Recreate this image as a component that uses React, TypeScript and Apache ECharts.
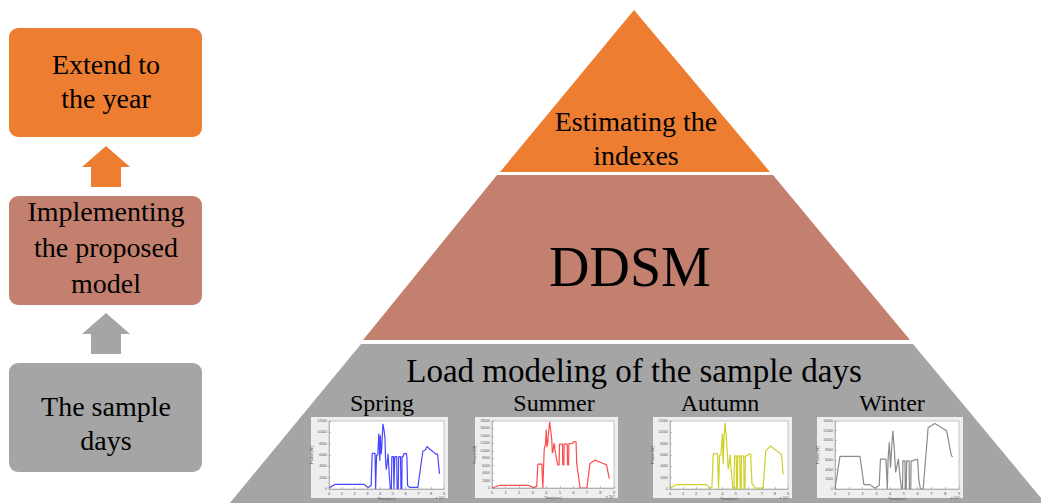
import React, { useEffect, useRef } from "react";
import * as echarts from "echarts";

const seasons = ["Spring", "Summer", "Autumn", "Winter"];

const springLoad = [
  [0, 200], [0.45, 800], [2.75, 800], [3.05, 250], [3.3, 600], [3.38, 6300], [3.6, 6300], [3.65, 0],
  [3.72, 6000], [3.82, 6000], [3.9, 9800], [3.98, 5000], [4.02, 9500], [4.08, 6200], [4.12, 7000],
  [4.22, 11500], [4.3, 10500], [4.38, 9000], [4.42, 5500], [4.48, 3400], [4.55, 4500], [4.62, 6200],
  [4.7, 3000], [4.8, 0], [4.88, 0], [4.92, 5700], [5.05, 5700], [5.08, 0], [5.12, 0], [5.15, 5700],
  [5.3, 5700], [5.33, 0], [5.42, 0], [5.45, 5700], [5.6, 5700], [5.63, 0], [5.7, 0], [5.72, 5700],
  [5.8, 5700], [5.85, 6200], [6.05, 6300], [6.1, 5500], [6.15, 600], [6.3, 300], [6.95, 300],
  [7.35, 6700], [7.5, 6800], [7.68, 7500], [7.8, 7200], [8.35, 6200], [8.5, 6100], [8.65, 2700],
];

const summerLoad = [
  [0, 0], [0.6, 730], [2.7, 730], [3.06, 100], [3.3, 450], [3.38, 6400], [3.68, 6400], [3.75, 0],
  [3.85, 10300], [3.95, 12000], [4.0, 15700], [4.05, 11000], [4.1, 12000], [4.25, 17800], [4.34, 15300],
  [4.41, 13000], [4.45, 9400], [4.5, 9800], [4.58, 12100], [4.7, 9000], [4.85, 6200], [4.95, 6200],
  [4.98, 11800], [5.2, 11800], [5.22, 6200], [5.3, 6200], [5.32, 11800], [5.55, 11800], [5.57, 6200],
  [5.65, 6200], [5.67, 11900], [5.95, 12000], [6.0, 12400], [6.2, 12400], [6.25, 6600], [6.5, 0],
  [7.0, 0], [7.23, 6600], [7.6, 7500], [8.2, 6600], [8.45, 6200], [8.65, 2500],
];

const autumnLoad = [
  [0, 200], [0.5, 760], [2.8, 760], [3.05, 100], [3.2, 350], [3.3, 6260], [3.63, 6200], [3.7, 0],
  [3.78, 6000], [3.88, 6000], [4.0, 9800], [4.06, 4400], [4.12, 9000], [4.2, 11700], [4.3, 9100],
  [4.44, 3500], [4.5, 4200], [4.57, 6100], [4.68, 3000], [4.8, 0], [4.88, 0], [4.92, 5850], [5.05, 5850],
  [5.08, 0], [5.14, 0], [5.17, 5850], [5.32, 5850], [5.35, 0], [5.42, 0], [5.45, 5850], [5.62, 5850],
  [5.65, 0], [5.72, 0], [5.75, 5850], [5.9, 5850], [5.95, 6100], [6.15, 6200], [6.25, 1000], [6.5, 150],
  [7.1, 150], [7.3, 6700], [7.66, 7600], [8.5, 6100], [8.63, 2600],
];

const winterLoad = [
  [0, 0], [0.36, 6700], [1.81, 6700], [2.1, 900], [2.54, 900], [2.9, 150], [3.21, 750], [3.3, 6150],
  [3.7, 6150], [3.8, 0], [3.85, 6000], [3.94, 9600], [4.03, 4400], [4.08, 7000], [4.2, 12000],
  [4.3, 8500], [4.4, 3400], [4.5, 4800], [4.6, 6200], [4.7, 3000], [4.83, 0], [4.9, 0], [4.93, 5800],
  [5.08, 5800], [5.1, 0], [5.17, 0], [5.2, 5800], [5.38, 5800], [5.4, 0], [5.5, 0], [5.52, 5800],
  [5.7, 5800], [5.75, 6000], [6.0, 6100], [6.08, 2000], [6.2, 0], [6.4, 0], [6.76, 12600],
  [7.25, 13500], [8.1, 12000], [8.45, 6800], [8.57, 6700],
];

const seasonLoads = [springLoad, summerLoad, autumnLoad, winterLoad];
const yMaxBySeason = [12000, 18000, 12000, 14000];
const yInterval = 2000;
const xTickLabels = ["0", "1", "2", "3", "4", "5", "6", "7", "8", "9"];
const lineColors = ["#4646ff", "#ff4b4b", "#cfcf2a", "#8a8a8a"];

const pyramidLabels = ["Estimating the\nindexes", "DDSM", "Load modeling of the sample days"];
const stepLabels = ["Extend to\nthe year", "Implementing\nthe proposed\nmodel", "The sample\ndays"];

const ORANGE = "#ED7D31";
const BROWN = "#C4806F";
const GRAY = "#A5A5A5";
const FONT = "Liberation Serif";

// layout (pixels)
const plotBoxes = [
  { l: 329, t: 421, w: 115, h: 68, pl: 311, pw: 137 },
  { l: 492, t: 421, w: 122, h: 67, pl: 475, pw: 143 },
  { l: 670, t: 421, w: 118, h: 68, pl: 653, pw: 139 },
  { l: 835, t: 421, w: 124, h: 68, pl: 817, pw: 146 },
];
const seasonLabelX = [382, 554, 720, 892];

export default function App() {
  const ref = useRef<HTMLDivElement>(null);

  useEffect(() => {
    const chart = echarts.init(ref.current!, null, { renderer: "svg" });

    const textEl = (text: string, x: number, y: number, size: number, lineHeight?: number) => ({
      type: "text",
      x,
      y,
      z: 5,
      style: {
        text,
        fontSize: size,
        fontFamily: FONT,
        fill: "#000",
        align: "center",
        verticalAlign: "middle",
        lineHeight: lineHeight || size * 1.2,
      },
    });

    const graphic: any[] = [
      // left flow boxes
      { type: "rect", z: 0, shape: { x: 9, y: 28, width: 193, height: 109, r: 9 }, style: { fill: ORANGE } },
      { type: "rect", z: 0, shape: { x: 9, y: 196, width: 193, height: 109, r: 9 }, style: { fill: BROWN } },
      { type: "rect", z: 0, shape: { x: 9, y: 363, width: 193, height: 109, r: 9 }, style: { fill: GRAY } },
      {
        type: "polygon", z: 0,
        shape: { points: [[106, 146], [130, 167], [121, 167], [121, 187], [91, 187], [91, 167], [82, 167]] },
        style: { fill: ORANGE },
      },
      {
        type: "polygon", z: 0,
        shape: { points: [[106, 313], [130, 334], [121, 334], [121, 354], [91, 354], [91, 334], [82, 334]] },
        style: { fill: GRAY },
      },
      textEl(stepLabels[0], 106, 81, 28, 34),
      textEl(stepLabels[1], 106, 247, 28, 36),
      textEl(stepLabels[2], 106, 423, 28, 34),
      // pyramid
      { type: "polygon", z: 0, shape: { points: [[634, 10], [770, 172], [500, 172]] }, style: { fill: ORANGE } },
      { type: "polygon", z: 0, shape: { points: [[497, 175], [773, 175], [910, 340], [363, 340]] }, style: { fill: BROWN } },
      { type: "polygon", z: 0, shape: { points: [[361, 344], [913, 344], [1046, 504], [229, 504]] }, style: { fill: GRAY } },
      textEl(pyramidLabels[0], 636, 138, 28, 34),
      textEl(pyramidLabels[1], 630, 267, 56),
      textEl(pyramidLabels[2], 634, 371, 33),
    ];

    seasons.forEach((s, i) => {
      graphic.push(textEl(s, seasonLabelX[i], 403, 24));
      const b = plotBoxes[i];
      graphic.push({
        type: "rect", z: 0,
        shape: { x: b.pl, y: 417, width: b.pw, height: 81 },
        style: { fill: "#EEEEEE" },
      });
      graphic.push({
        type: "text", z: 5, x: b.l + b.w + 1, y: b.t + b.h + 8,
        style: { text: "x 10⁴", fontSize: 4, fontFamily: "Liberation Sans", fill: "#555", align: "right", verticalAlign: "middle" },
      });
    });

    const grid = plotBoxes.map((b) => ({
      left: b.l, top: b.t, width: b.w, height: b.h,
      show: true, backgroundColor: "#fff", borderColor: "#8c8c8c", borderWidth: 0.5, z: 1,
      containLabel: false,
    }));

    const xAxis = plotBoxes.map((_, i) => ({
      type: "value", gridIndex: i, min: 0, max: 9, interval: 1, z: 3,
      axisLine: { show: true, lineStyle: { color: "#8c8c8c", width: 0.5 } },
      axisTick: { show: true, inside: true, length: 2, lineStyle: { color: "#8c8c8c", width: 0.5 } },
      axisLabel: { fontSize: 4, margin: 2, color: "#555", fontFamily: "Liberation Sans", formatter: (v: number) => xTickLabels[Math.round(v)] },
      splitLine: { show: false },
      name: "Time(sec)", nameLocation: "middle", nameGap: 7,
      nameTextStyle: { fontSize: 4, color: "#555", fontFamily: "Liberation Sans" },
    }));

    const yAxis = plotBoxes.map((_, i) => ({
      type: "value", gridIndex: i, min: 0, max: yMaxBySeason[i], interval: yInterval, z: 3,
      axisLine: { show: true, lineStyle: { color: "#8c8c8c", width: 0.5 } },
      axisTick: { show: true, inside: true, length: 2, lineStyle: { color: "#8c8c8c", width: 0.5 } },
      axisLabel: { fontSize: 3.5, margin: 2, color: "#555", fontFamily: "Liberation Sans", formatter: (v: number) => String(v) },
      splitLine: { show: false },
      name: "Power(W)", nameLocation: "middle", nameGap: 13, nameRotate: 90,
      nameTextStyle: { fontSize: 4, color: "#555", fontFamily: "Liberation Sans" },
    }));

    const series = seasonLoads.map((d, i) => ({
      type: "line", name: seasons[i], xAxisIndex: i, yAxisIndex: i, data: d,
      showSymbol: false, symbol: "none", z: 2,
      lineStyle: { color: lineColors[i], width: 1.2 },
    }));

    chart.setOption({
      animation: false,
      backgroundColor: "#fff",
      textStyle: { fontFamily: FONT },
      graphic,
      grid,
      xAxis,
      yAxis,
      series,
    });

    return () => chart.dispose();
  }, []);

  return (
    <div
      ref={ref}
      style={{ position: "fixed", left: 0, top: 0, width: 1041, height: 503, background: "#fff" }}
    />
  );
}
